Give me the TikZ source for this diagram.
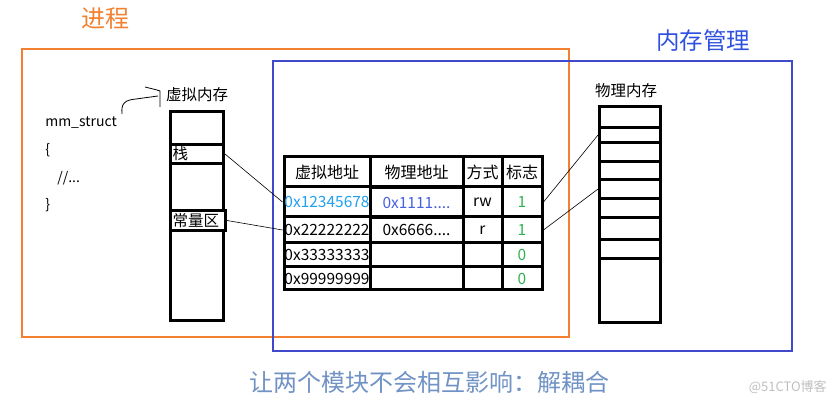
\documentclass[tikz,border=0pt]{standalone}
\usepackage{fontspec}
\setmainfont{Noto Sans CJK SC}
\usetikzlibrary{positioning}

\definecolor{procorange}{RGB}{242,128,48}
\definecolor{mgrblue}{RGB}{64,72,204}
\definecolor{titleblue}{RGB}{48,80,224}
\definecolor{noteblue}{RGB}{112,146,196}
\definecolor{flaggreen}{RGB}{48,176,80}
\definecolor{vacyan}{RGB}{32,160,240}
\definecolor{pablue}{RGB}{72,96,224}
\newcommand{\sizept}[1]{\fontsize{#1}{#1}\selectfont}

\begin{document}
\begin{tikzpicture}[x=1pt,y=-1pt,semithick]
  \tikzstyle{every node}=[inner sep=0pt]
  \tikzstyle{box}=[draw=black,line width=3pt]
  \tikzstyle{vcell}=[box,anchor=north west,minimum width=53pt,font=\sizept{15.5}]
  \tikzstyle{tcell}=[box,font=\sizept{15.5}]
  \tikzstyle{thead}=[box,font=\sizept{16}]
  \tikzstyle{pcell}=[box,anchor=north west,minimum width=61pt]
  \tikzstyle{link}=[draw=black,line width=0.6pt]
  \useasboundingbox (0,0) rectangle (838,403);

  % Frames: process / memory management
  \draw[procorange,line width=1.2pt] (22,49) rectangle (569,337);
  \draw[mgrblue,line width=1.2pt] (273,61) rectangle (792,351);
  \node[text=procorange,font=\sizept{24}] (tproc) at (105,19) {进程};
  \node[text=titleblue,font=\sizept{23.5}] (tmgr) at (703,41) {内存管理};

  % mm_struct code
  \node[anchor=west,font=\sizept{14}] (mm) at (45,123) {mm\_struct};
  \node[anchor=west,font=\sizept{14}] (br1) at (45,150) {\{};
  \node[anchor=west,font=\sizept{14}] (dots) at (57,178) {//...};
  \node[anchor=west,font=\sizept{14}] (br2) at (45,205) {\}};
  \draw[line width=0.8pt] (122,114) .. controls (121,103) and (125,100) .. (136,99)
    -- (158,96);
  \draw[line width=0.8pt] (145,87) -- (157,90) -- (160,91) -- (160,107);

  % Virtual memory column
  \node[font=\sizept{15.5}] (tvirt) at (197,95) {虚拟内存};
  \node[vcell,minimum height=33pt] (v1) at (169,110) {};
  \node[vcell,minimum height=19pt,text width=49pt,inner xsep=2pt,align=left] (stk) at (169,143) {栈};
  \node[vcell,minimum height=47pt] (v3) at (169,162) {};
  \node[vcell,minimum height=20pt,minimum width=55pt,text width=51pt,inner xsep=2pt,align=left] (cst) at (169,209) {常量区};
  \node[vcell,minimum height=90pt] (v5) at (169,229) {};

  % Page table
  \node[thead,minimum width=86pt,minimum height=30pt] (h1) at (327,172) {虚拟地址};
  \node[thead,minimum width=93pt,minimum height=30pt] (h2) at (416.5,172) {物理地址};
  \node[thead,minimum width=39pt,minimum height=30pt] (h3) at (482.5,172) {方式};
  \node[thead,minimum width=40pt,minimum height=30pt] (h4) at (522,172) {标志};

  \node[tcell,minimum width=86pt,minimum height=30pt,text=vacyan] (va1) at (327,202) {0x12345678};
  \node[tcell,minimum width=93pt,minimum height=30pt,text=pablue] (pa1) at (416.5,203) {0x1111....};
  \node[tcell,minimum width=39pt,minimum height=30pt] (md1) at (482.5,202) {rw};
  \node[tcell,minimum width=40pt,minimum height=30pt,text=flaggreen] (fl1) at (522,202) {1};

  \node[tcell,minimum width=86pt,minimum height=26pt] (va2) at (327,230) {0x22222222};
  \node[tcell,minimum width=93pt,minimum height=26pt] (pa2) at (416.5,230) {0x6666....};
  \node[tcell,minimum width=39pt,minimum height=26pt] (md2) at (482.5,230) {r};
  \node[tcell,minimum width=40pt,minimum height=26pt,text=flaggreen] (fl2) at (522,230) {1};

  \node[tcell,minimum width=86pt,minimum height=24pt] (va3) at (327,255) {0x33333333};
  \node[tcell,minimum width=93pt,minimum height=24pt] (pa3) at (416.5,255) {};
  \node[tcell,minimum width=39pt,minimum height=24pt] (md3) at (482.5,255) {};
  \node[tcell,minimum width=40pt,minimum height=24pt,text=flaggreen] (fl3) at (522,255) {0};

  \node[tcell,minimum width=86pt,minimum height=23pt] (va4) at (327,278.5) {0x99999999};
  \node[tcell,minimum width=93pt,minimum height=23pt] (pa4) at (416.5,278.5) {};
  \node[tcell,minimum width=39pt,minimum height=23pt] (md4) at (482.5,278.5) {};
  \node[tcell,minimum width=40pt,minimum height=23pt,text=flaggreen] (fl4) at (522,278.5) {0};

  % Physical memory column
  \node[font=\sizept{15.5}] (tphys) at (626,91) {物理内存};
  \foreach \i/\t/\b in {1/105/126, 2/126/141, 3/141/160, 4/160/178, 5/178/197,
                        6/197/216, 7/216/238, 8/238/257, 9/257/321}
    \node[pcell,minimum height={\b-\t}] (pm\i) at (598,\t) {};

  % Mappings
  \path[link] (stk.east) -- (va1.west);
  \path[link] (cst.east) -- (va2.west);
  \path[link] (fl1.east) -- (pm2.west);
  \path[link] (fl2.east) -- (pm5.west);

  % Notes
  \node[anchor=west,text=noteblue,font=\sizept{24}] (note) at (249,382) {让两个模块不会相互影响：解耦合};
  \node[anchor=east,text=black!25,font=\sizept{13}] (mark) at (827,387) {@51CTO博客};
\end{tikzpicture}
\end{document}
